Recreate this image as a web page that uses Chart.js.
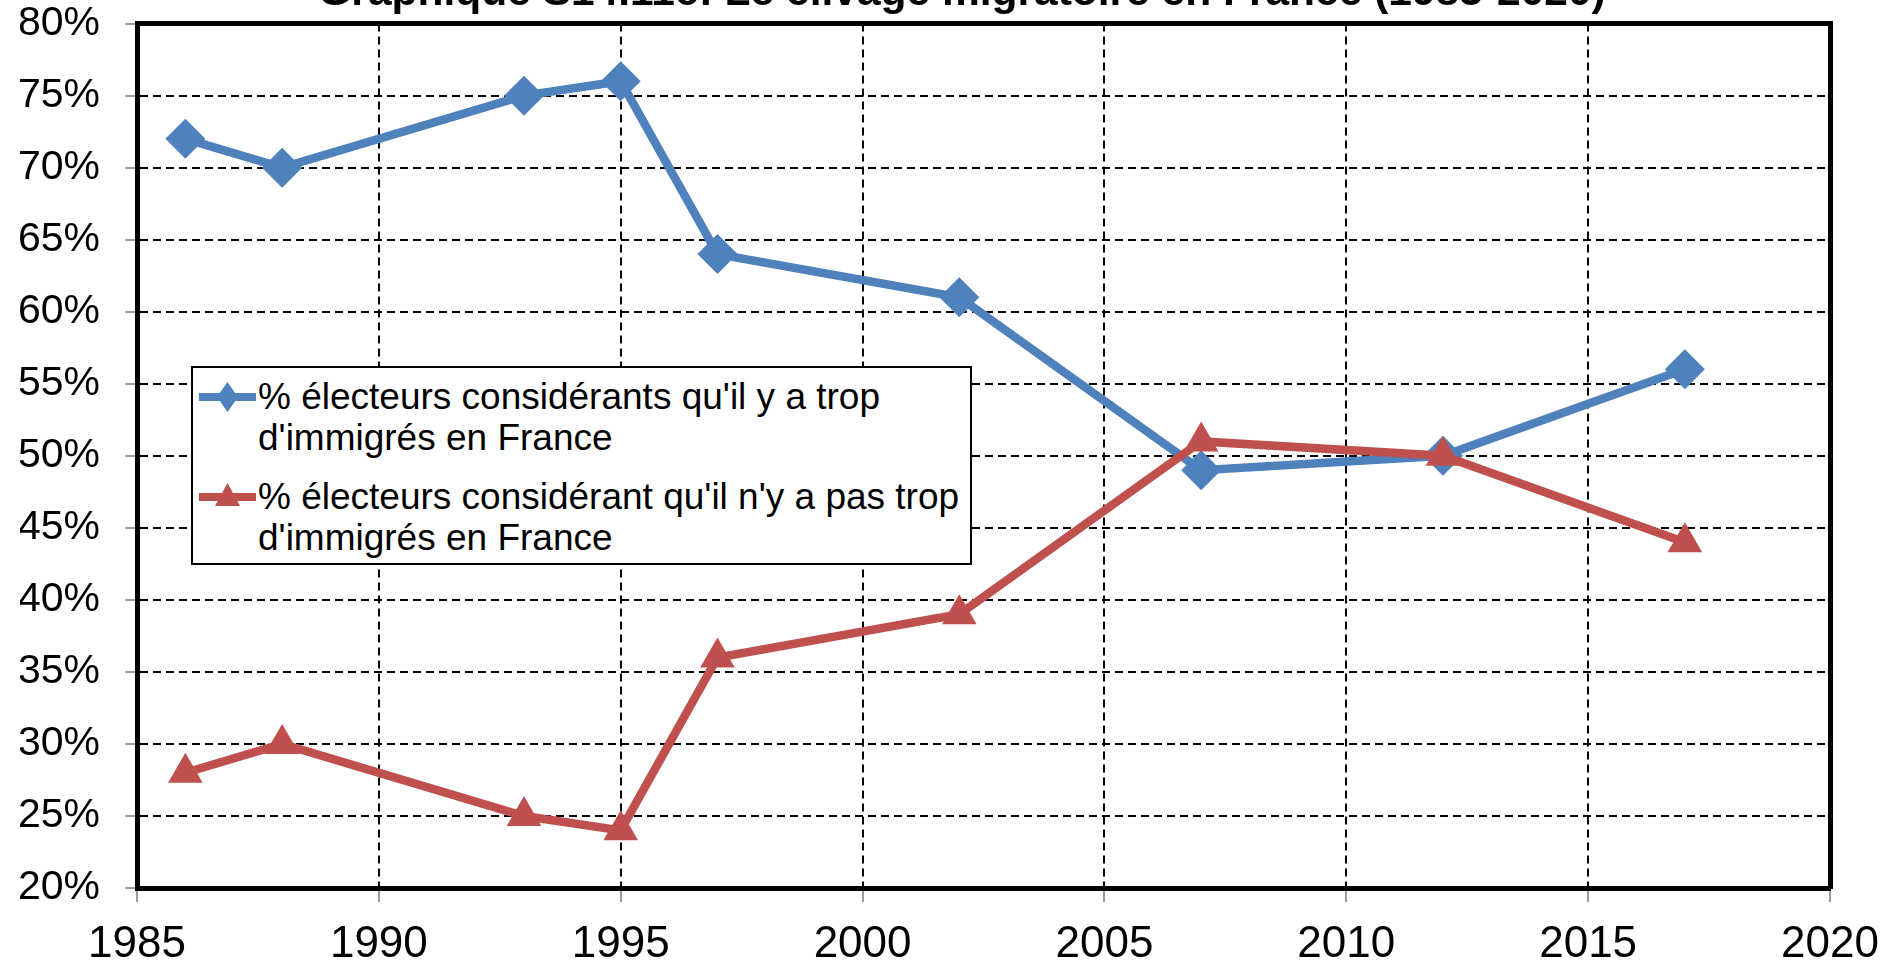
<!DOCTYPE html>
<html>
<head>
<meta charset="utf-8">
<script src="https://cdn.jsdelivr.net/npm/chart.js@4/dist/chart.umd.min.js"></script>
<style>
  html, body { margin: 0; padding: 0; background: #fff; overflow: hidden; width: 1904px; height: 968px; }
  #wrap { position: absolute; left: 0; top: -40px; width: 1904px; height: 1008px; }
  #legend {
    position: absolute; left: 191px; top: 366px; width: 777px; height: 195px;
    border: 2px solid #000; background: #fff; box-sizing: content-box;
    font-family: 'Liberation Sans', Arial, sans-serif; font-size: 37px; line-height: 41px; color: #000;
  }
  .item { position: absolute; left: 0; }
  .item svg { position: absolute; left: 6px; }
  .item .txt { position: absolute; left: 65px; white-space: nowrap; }
</style>
</head>
<body>
<div id="wrap"><canvas id="c"></canvas></div>
<div id="legend"></div>
<script>
// ---- data ----
const years = [1986, 1988, 1993, 1995, 1997, 2002, 2007, 2012, 2017];
const tooMany = [72, 70, 75, 76, 64, 61, 49, 50, 56];
const notTooMany = [28, 30, 25, 24, 36, 39, 51, 50, 44];
const seriesLabels = [
  "% électeurs considérants qu'il y a trop d'immigrés en France",
  "% électeurs considérant qu'il n'y a pas trop d'immigrés en France"
];
const legendLines = [
  ["% électeurs considérants qu'il y a trop", "d'immigrés en France"],
  ["% électeurs considérant qu'il n'y a pas trop", "d'immigrés en France"]
];
const titleText = "Graphique S14.11c: Le clivage migratoire en France (1985-2020)";
const xRange = [1985, 2020];
const yRange = [20, 80];

const BLUE = '#4F81BD', RED = '#C0504D';
const FONT = "'Liberation Sans', Arial, sans-serif";

const pts = (vals) => years.map((y, i) => ({ x: y, y: vals[i] }));

const hiddenAxis = (pos, extra) => Object.assign({
  type: 'linear', position: pos, display: true,
  ticks: { display: false },
  grid: { display: false, drawTicks: false },
  border: { display: true, color: '#000', width: 5 }
}, extra);

new Chart(document.getElementById('c'), {
  type: 'line',
  data: {
    datasets: [
      { label: seriesLabels[0], data: pts(tooMany), borderColor: BLUE, backgroundColor: BLUE,
        borderWidth: 8.5, pointStyle: 'rectRot', pointRadius: 20, pointHoverRadius: 20,
        pointBorderWidth: 0, order: 1, xAxisID: 'x', yAxisID: 'y' },
      { label: seriesLabels[1], data: pts(notTooMany), borderColor: RED, backgroundColor: RED,
        borderWidth: 8.5, pointStyle: 'triangle', pointRadius: 20, pointHoverRadius: 20,
        pointBorderWidth: 0, order: 0, xAxisID: 'x', yAxisID: 'y' }
    ]
  },
  options: {
    responsive: true, maintainAspectRatio: false, animation: false,
    layout: { padding: { left: 20, right: 0, top: 0, bottom: 0 } },
    plugins: {
      legend: { display: false },
      tooltip: { enabled: false },
      title: { display: true, text: titleText, color: '#000',
        font: { family: FONT, size: 42.5, weight: 'bold', lineHeight: 1.2 },
        padding: { top: 8, bottom: 0 } }
    },
    scales: {
      x: {
        type: 'linear', position: 'bottom', min: xRange[0], max: xRange[1],
        afterFit: (s) => { s.height = 80; },
        ticks: { stepSize: 5, color: '#000', padding: 16, font: { family: FONT, size: 44 },
          callback: (v) => String(v), maxRotation: 0 },
        grid: { color: '#000', lineWidth: 2, tickLength: 14, tickColor: '#777', tickWidth: 1.5, tickBorderDash: [] },
        border: { display: true, color: '#000', width: 5, dash: [8, 5] }
      },
      y: {
        type: 'linear', position: 'left', min: yRange[0], max: yRange[1],
        afterFit: (s) => { s.width = 117; },
        ticks: { stepSize: 5, color: '#000', padding: 25, font: { family: FONT, size: 41 },
          callback: (v) => v + '%' },
        grid: { color: '#000', lineWidth: 2, tickLength: 12, tickColor: '#777', tickWidth: 1.5, tickBorderDash: [] },
        border: { display: true, color: '#000', width: 5, dash: [8, 5] }
      },
      x2: hiddenAxis('top', { min: xRange[0], max: xRange[1], afterFit: (s) => { s.height = 4.6; } }),
      y2: hiddenAxis('right', { min: yRange[0], max: yRange[1], afterFit: (s) => { s.width = 74; } })
    }
  }
});

// ---- HTML legend ----
const legend = document.getElementById('legend');
const mk = (i) => {
  const col = i === 0 ? BLUE : RED;
  const shape = i === 0
    ? `<polygon points="28.5,5 39,20 28.5,35 18,20" fill="${col}"/>`
    : `<polygon points="28.5,6 41,29 16,29" fill="${col}"/>`;
  return `<svg width="57" height="40" viewBox="0 0 57 40"><line x1="0" y1="20" x2="57" y2="20" stroke="${col}" stroke-width="8" stroke-linecap="round"/>${shape}</svg>`;
};
const tops = [8, 108];
legendLines.forEach((lines, i) => {
  const d = document.createElement('div');
  d.className = 'item';
  d.style.top = tops[i] + 'px';
  d.innerHTML = mk(i).replace('<svg', '<svg style="top:1px"') +
    `<div class="txt">${lines[0]}<br>${lines[1]}</div>`;
  legend.appendChild(d);
});
</script>
</body>
</html>
